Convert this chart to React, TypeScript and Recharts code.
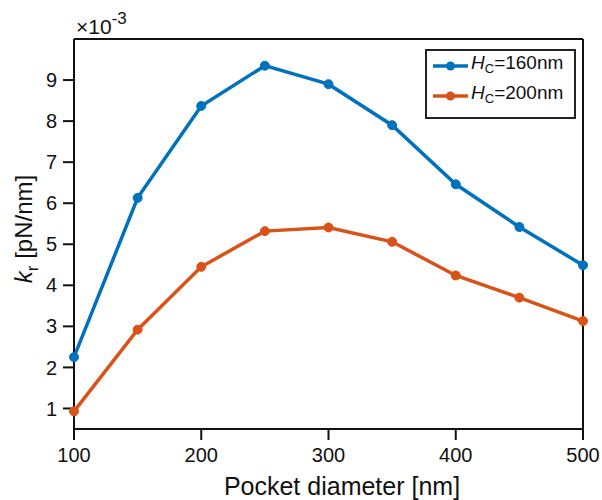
import { LineChart, Line, XAxis, YAxis, ReferenceLine } from "recharts";

// pocket diameter [nm]
const diameters = [100, 150, 200, 250, 300, 350, 400, 450, 500];
// k_r in units of 1e-3 pN/nm
const kr160 = [2.25, 6.13, 8.37, 9.35, 8.9, 7.9, 6.46, 5.42, 4.49];
const kr200 = [0.93, 2.92, 4.45, 5.32, 5.41, 5.06, 4.24, 3.7, 3.13];

const xTicks = [100, 200, 300, 400, 500];
const yTicks = [1, 2, 3, 4, 5, 6, 7, 8, 9];

const BLUE = "#0072BD";
const ORANGE = "#D95319";
const FONT = "'Liberation Sans', Arial, Helvetica, sans-serif";

const data = diameters.map((d, i) => ({ d, h160: kr160[i], h200: kr200[i] }));

function LegendBox() {
  const rows = [
    { color: BLUE, value: "160nm" },
    { color: ORANGE, value: "200nm" },
  ];
  return (
    <div
      style={{
        position: "absolute",
        left: 425,
        top: 49,
        width: 142,
        border: "2px solid #222",
        background: "#fff",
        padding: "0 0 6px 5px",
        fontFamily: FONT,
        fontSize: 19,
        color: "#111",
        lineHeight: "24px",
      }}
    >
      {rows.map((r) => (
        <div key={r.value} style={{ display: "flex", alignItems: "center" }}>
          <svg width={38} height={12} style={{ marginRight: 1 }}>
            <line x1={1} y1={6} x2={36} y2={6} stroke={r.color} strokeWidth={3.5} />
            <circle cx={18.5} cy={6} r={4.5} fill={r.color} />
          </svg>
          <span>
            <i>H</i>
            <sub style={{ fontSize: 13, verticalAlign: "-4px" }}>C</sub>={r.value}
          </span>
        </div>
      ))}
    </div>
  );
}

export default function App() {
  return (
    <div style={{ position: "absolute", left: 0, top: 0, width: 602, height: 500, background: "#fff" }}>
      <LineChart
        width={602}
        height={500}
        data={data}
        margin={{ top: 39, right: 19, left: 0, bottom: 0 }}
      >
        <XAxis
          dataKey="d"
          type="number"
          domain={[100, 500]}
          ticks={xTicks}
          height={71}
          stroke="#111"
          strokeWidth={2}
          tickSize={11}
          tickMargin={8}
          tick={{ fill: "#111", fontSize: 20, fontFamily: FONT }}
          label={{
            content: () => (
              <text
                x={342}
                y={495}
                textAnchor="middle"
                fill="#111"
                fontSize={25}
                fontFamily={FONT}
              >
                Pocket diameter [nm]
              </text>
            ),
          }}
        />
        <YAxis
          type="number"
          domain={[0.5, 10]}
          ticks={yTicks}
          width={74}
          stroke="#111"
          strokeWidth={2}
          tickSize={11}
          tickMargin={6}
          tick={{ fill: "#111", fontSize: 20, fontFamily: FONT }}
          label={{
            content: () => (
              <g>
                <text
                  transform="translate(32, 229) rotate(-90)"
                  textAnchor="middle"
                  fill="#111"
                  fontSize={24}
                  fontFamily={FONT}
                >
                  <tspan fontStyle="italic">k</tspan>
                  <tspan fontSize={17} dy={6}>r</tspan>
                  <tspan dy={-6}> [pN/nm]</tspan>
                </text>
                <text x={76} y={34} fill="#111" fontSize={21} fontFamily={FONT}>
                  {"\u00d710"}
                  <tspan fontSize={17} dy={-10}>-3</tspan>
                </text>
              </g>
            ),
          }}
        />
        <ReferenceLine y={10} stroke="#111" strokeWidth={2} ifOverflow="visible" />
        <ReferenceLine x={500} stroke="#111" strokeWidth={2} ifOverflow="visible" />
        <Line
          dataKey="h160"
          stroke={BLUE}
          strokeWidth={3.5}
          dot={{ r: 4.5, fill: BLUE, stroke: BLUE, strokeWidth: 1 }}
          activeDot={false}
          isAnimationActive={false}
        />
        <Line
          dataKey="h200"
          stroke={ORANGE}
          strokeWidth={3.5}
          dot={{ r: 4.5, fill: ORANGE, stroke: ORANGE, strokeWidth: 1 }}
          activeDot={false}
          isAnimationActive={false}
        />
      </LineChart>
      <LegendBox />
    </div>
  );
}
